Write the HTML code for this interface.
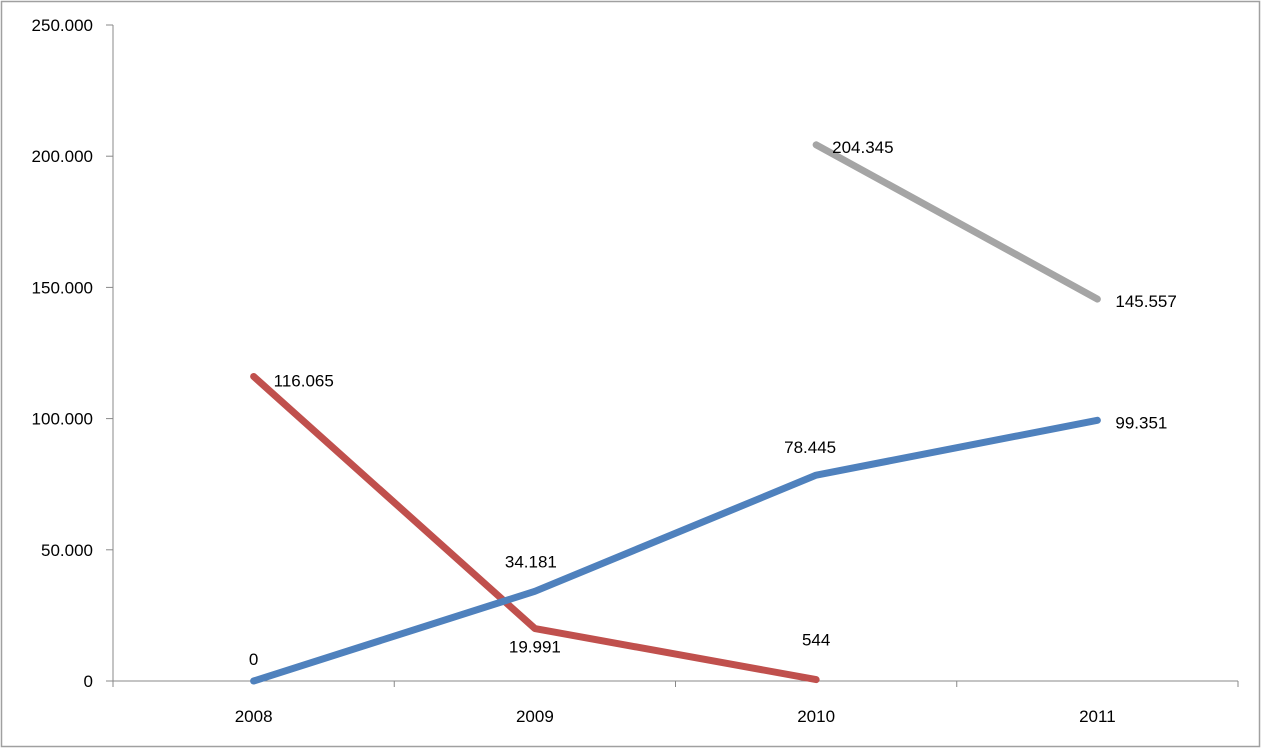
<!DOCTYPE html>
<html><head><meta charset="utf-8"><style>
html,body{margin:0;padding:0;background:#fff;}
svg{display:block;font-family:"Liberation Sans",sans-serif;}
</style></head><body>
<svg id="chart" width="1262" height="749" viewBox="0 0 1262 749" xmlns="http://www.w3.org/2000/svg">
<rect x="1.5" y="1.5" width="1258" height="745" fill="#fff" stroke="#a0a0a0" stroke-width="1.5"/>
<g id="axes"></g>
<g id="series"></g>
<g id="labels"></g>
</svg>
<script>
const categories = ["2008","2009","2010","2011"];
const blueValues = [0, 34181, 78445, 99351];
const redValues = [116065, 19991, 544, null];
const grayValues = [null, null, 204345, 145557];
const yTicks = [0, 50000, 100000, 150000, 200000, 250000];
const yTickLabels = ["0","50.000","100.000","150.000","200.000","250.000"];

const NS = "http://www.w3.org/2000/svg";
const x0 = 113, x1 = 1238, y0 = 681, yTop = 25, yMax = 250000;
const bw = (x1 - x0) / categories.length;
const xScale = i => x0 + bw * (i + 0.5);
const yScale = v => y0 - (v / yMax) * (y0 - yTop);
function fmt(v){ return v.toString().replace(/\B(?=(\d{3})+(?!\d))/g, "."); }
function mk(tag, attrs, parent){ const e = document.createElementNS(NS, tag); for (const k in attrs) e.setAttribute(k, attrs[k]); parent.appendChild(e); return e; }

const axes = document.getElementById("axes");
const yAxis = mk("line", {x1:x0, y1:yTop, x2:x0, y2:y0+6, stroke:"#888", "stroke-width":1}, axes);


const xAxis = mk("line", {x1:x0-7, y1:y0, x2:x1, y2:y0, stroke:"#888", "stroke-width":1}, axes);


yTicks.forEach((t, i) => {
  const y = yScale(t);
  const tk = mk("line", {x1:x0-7, y1:y, x2:x0, y2:y, stroke:"#888"}, axes);
  
  
  const lb = mk("text", {x:93, y:y+6, "text-anchor":"end", "font-size":17, fill:"#000"}, axes);
  lb.textContent = yTickLabels[i];
  
  
});
for (let i = 0; i <= categories.length; i++) {
  const x = x0 + bw * i;
  const tk = mk("line", {x1:x, y1:y0, x2:x, y2:y0+6, stroke:"#888"}, axes);
  
  
}
categories.forEach((c, i) => {
  const lb = mk("text", {x:xScale(i), y:722, "text-anchor":"middle", "font-size":17, fill:"#000"}, axes);
  lb.textContent = c;
  
  
});

const seriesG = document.getElementById("series");
const labelsG = document.getElementById("labels");
const seriesDefs = [
  {vals: redValues, color:"#c0504d", name:"red-series", off:[[20,10,"start"],[0,24,"middle"],[0,-34,"middle"],[0,0,"start"]]},
  {vals: grayValues, color:"#a5a5a5", name:"gray-series", off:[[0,0,"start"],[0,0,"start"],[16,8,"start"],[18,8,"start"]]},
  {vals: blueValues, color:"#4f81bd", name:"blue-series", off:[[0,-16,"middle"],[-4,-24,"middle"],[-6,-22,"middle"],[18,8,"start"]]}
];
seriesDefs.forEach(s => {
  const pts = [];
  s.vals.forEach((v, i) => { if (v !== null) pts.push([xScale(i), yScale(v), v, i]); });
  const p = mk("polyline", {points: pts.map(q => q[0]+","+q[1]).join(" "), fill:"none", stroke:s.color, "stroke-width":7, "stroke-linecap":"round", "stroke-linejoin":"round"}, seriesG);
  
  
  pts.forEach(q => {
    const o = s.off[q[3]];
    const t = mk("text", {x:q[0]+o[0], y:q[1]+o[1], "text-anchor":o[2], "font-size":17, fill:"#000"}, labelsG);
    t.textContent = fmt(q[2]);
    
    
  });
});
</script>
</body></html>
